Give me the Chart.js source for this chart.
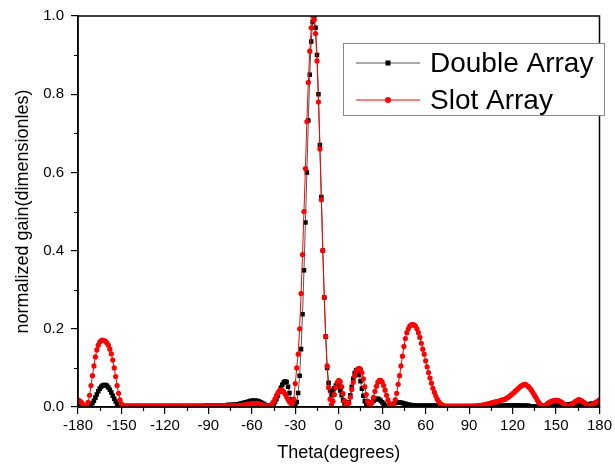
<!DOCTYPE html>
<html>
<head>
<meta charset="utf-8">
<script src="https://cdn.jsdelivr.net/npm/chart.js@4.4.1/dist/chart.umd.min.js"></script>
<style>
  html, body { margin: 0; padding: 0; background: #fff; }
  #wrap { width: 615px; height: 469px; }
</style>
</head>
<body>
<div id="wrap"><canvas id="gainChart" width="615" height="469"></canvas></div>
<script>
// sample grid: one point per degree, -180 .. 180
const theta = [];
for (let t = -180; t <= 180; t++) theta.push(t);

// Double Array (black squares), 10 degrees per row
const doubleArray = [
  0.003,0.003,0.002,0.002,0.002,0.001,0.001,0.001,0.002,0.005,
  0.010,0.016,0.024,0.032,0.040,0.047,0.052,0.055,0.056,0.056,
  0.054,0.050,0.044,0.037,0.029,0.021,0.014,0.008,0.004,0.002,
  0.001,0.001,0.002,0.002,0.002,0.002,0.002,0.002,0.002,0.002,
  0.002,0.002,0.002,0.002,0.002,0.002,0.002,0.002,0.002,0.002,
  0.002,0.002,0.002,0.002,0.002,0.002,0.002,0.002,0.002,0.002,
  0.002,0.002,0.002,0.002,0.002,0.002,0.002,0.002,0.002,0.002,
  0.002,0.002,0.002,0.002,0.002,0.002,0.002,0.002,0.002,0.002,
  0.002,0.002,0.002,0.002,0.002,0.002,0.002,0.002,0.003,0.003,
  0.003,0.003,0.003,0.003,0.003,0.003,0.003,0.004,0.004,0.004,
  0.004,0.004,0.004,0.005,0.005,0.005,0.005,0.006,0.006,0.006,
  0.006,0.007,0.008,0.009,0.010,0.011,0.012,0.013,0.014,0.015,
  0.016,0.016,0.016,0.016,0.015,0.014,0.012,0.010,0.008,0.006,
  0.004,0.002,0.001,0.002,0.004,0.008,0.013,0.020,0.029,0.039,
  0.049,0.057,0.063,0.066,0.064,0.052,0.036,0.020,0.009,0.003,
  0.002,0.013,0.036,0.080,0.148,0.237,0.350,0.472,0.600,0.733,
  0.850,0.935,0.985,0.995,0.970,0.900,0.800,0.670,0.537,0.400,
  0.280,0.180,0.100,0.062,0.042,0.030,0.038,0.048,0.055,0.057,
  0.052,0.042,0.030,0.017,0.007,0.002,0.003,0.012,0.030,0.052,
  0.072,0.087,0.094,0.092,0.082,0.066,0.047,0.029,0.015,0.006,
  0.002,0.004,0.008,0.012,0.016,0.019,0.021,0.021,0.019,0.016,
  0.012,0.008,0.004,0.002,0.001,0.002,0.004,0.006,0.008,0.010,
  0.011,0.012,0.012,0.011,0.010,0.009,0.008,0.007,0.006,0.005,
  0.005,0.004,0.004,0.004,0.003,0.003,0.003,0.003,0.003,0.003,
  0.003,0.003,0.003,0.003,0.003,0.003,0.003,0.003,0.003,0.003,
  0.002,0.002,0.002,0.002,0.002,0.002,0.002,0.002,0.002,0.002,
  0.002,0.002,0.002,0.002,0.002,0.002,0.002,0.002,0.002,0.002,
  0.002,0.002,0.002,0.002,0.002,0.002,0.002,0.002,0.002,0.002,
  0.002,0.002,0.002,0.003,0.003,0.003,0.003,0.003,0.004,0.004,
  0.004,0.004,0.004,0.004,0.004,0.004,0.004,0.004,0.004,0.004,
  0.004,0.004,0.004,0.004,0.004,0.004,0.003,0.003,0.003,0.003,
  0.003,0.003,0.002,0.002,0.002,0.002,0.002,0.002,0.002,0.002,
  0.002,0.002,0.002,0.003,0.003,0.003,0.003,0.003,0.003,0.003,
  0.003,0.003,0.003,0.004,0.004,0.005,0.005,0.006,0.006,0.007,
  0.007,0.008,0.008,0.008,0.008,0.007,0.006,0.005,0.004,0.004,
  0.004,0.005,0.006,0.007,0.008,0.008,0.008,0.007,0.006,0.005,0.005
];

// Slot Array (red circles)
const slotArray = [
  0.018,0.016,0.013,0.009,0.005,0.003,0.004,0.012,0.030,0.055,
  0.080,0.105,0.128,0.146,0.158,0.166,0.170,0.171,0.170,0.168,
  0.164,0.158,0.148,0.136,0.120,0.100,0.078,0.055,0.035,0.018,
  0.008,0.004,0.003,0.003,0.003,0.003,0.003,0.003,0.003,0.003,
  0.003,0.003,0.003,0.003,0.003,0.003,0.003,0.003,0.003,0.003,
  0.003,0.003,0.003,0.003,0.003,0.003,0.003,0.003,0.003,0.003,
  0.003,0.003,0.003,0.003,0.003,0.003,0.003,0.003,0.003,0.003,
  0.003,0.003,0.003,0.003,0.003,0.003,0.003,0.003,0.003,0.003,
  0.003,0.003,0.003,0.003,0.003,0.003,0.003,0.003,0.003,0.003,
  0.003,0.003,0.003,0.003,0.003,0.003,0.003,0.003,0.003,0.003,
  0.003,0.003,0.003,0.003,0.003,0.003,0.003,0.003,0.003,0.003,
  0.003,0.003,0.004,0.004,0.005,0.005,0.006,0.007,0.007,0.008,
  0.008,0.009,0.009,0.009,0.009,0.008,0.007,0.006,0.004,0.003,
  0.002,0.002,0.003,0.004,0.008,0.014,0.021,0.029,0.036,0.041,
  0.044,0.043,0.039,0.033,0.026,0.019,0.013,0.009,0.008,0.020,
  0.060,0.100,0.135,0.200,0.290,0.390,0.500,0.610,0.730,0.830,
  0.910,0.970,1.000,0.990,0.955,0.885,0.780,0.660,0.530,0.400,
  0.280,0.180,0.105,0.050,0.020,0.007,0.015,0.032,0.050,0.063,
  0.068,0.065,0.052,0.034,0.016,0.004,0.002,0.010,0.025,0.045,
  0.063,0.079,0.090,0.097,0.099,0.097,0.088,0.072,0.052,0.032,
  0.015,0.005,0.004,0.012,0.025,0.040,0.053,0.063,0.068,0.068,
  0.064,0.055,0.043,0.030,0.018,0.009,0.005,0.003,0.006,0.018,
  0.035,0.058,0.080,0.105,0.130,0.155,0.175,0.190,0.200,0.207,
  0.210,0.211,0.210,0.207,0.200,0.190,0.178,0.163,0.148,0.135,
  0.118,0.103,0.088,0.074,0.061,0.048,0.038,0.028,0.020,0.014,
  0.009,0.006,0.004,0.002,0.002,0.002,0.002,0.002,0.002,0.002,
  0.002,0.002,0.002,0.002,0.002,0.002,0.002,0.002,0.002,0.002,
  0.002,0.002,0.002,0.002,0.003,0.003,0.003,0.004,0.004,0.005,
  0.005,0.006,0.007,0.008,0.009,0.010,0.011,0.012,0.013,0.014,
  0.014,0.016,0.017,0.018,0.019,0.020,0.023,0.025,0.028,0.031,
  0.034,0.037,0.041,0.044,0.048,0.051,0.054,0.056,0.058,0.058,
  0.055,0.052,0.048,0.043,0.037,0.031,0.025,0.018,0.012,0.007,
  0.004,0.002,0.003,0.005,0.008,0.011,0.013,0.015,0.016,0.017,
  0.017,0.017,0.016,0.014,0.012,0.009,0.006,0.003,0.002,0.003,
  0.004,0.007,0.010,0.013,0.015,0.018,0.019,0.017,0.015,0.012,
  0.010,0.007,0.004,0.002,0.003,0.005,0.008,0.011,0.013,0.015,0.018
];

const seriesNames = ['Double Array', 'Slot Array'];
const xMinorTicks = [-165,-135,-105,-75,-45,-15,15,45,75,105,135,165];
const yMinorTicks = [0.1,0.3,0.5,0.7,0.9];

const FONT = '"Liberation Sans", Arial, sans-serif';

function toPoints(vals){
  return theta.map((t,i)=>({x:t, y:vals[i]}));
}

// box around the plot, short minor ticks, and the legend inside the plot
const framePlugin = {
  id: 'frame',
  afterDraw(chart){
    const {ctx, chartArea:a, scales} = chart;
    ctx.save();
    ctx.strokeStyle = '#000';
    ctx.lineWidth = 1.5;
    ctx.strokeRect(a.left, a.top, a.right - a.left, a.bottom - a.top);

    ctx.lineWidth = 1.2;
    ctx.beginPath();
    xMinorTicks.forEach(v=>{
      const px = Math.round(scales.x.getPixelForValue(v)) + 0.5;
      ctx.moveTo(px, a.bottom); ctx.lineTo(px, a.bottom + 4);
    });
    yMinorTicks.forEach(v=>{
      const py = Math.round(scales.y.getPixelForValue(v)) + 0.5;
      ctx.moveTo(a.left, py); ctx.lineTo(a.left - 4, py);
    });
    ctx.stroke();

    // legend
    const bx = a.left + 265, by = a.top + 27, bw = 261, bh = 72;
    ctx.fillStyle = '#fff';
    ctx.fillRect(bx, by, bw, bh);
    ctx.strokeStyle = '#888';
    ctx.lineWidth = 1;
    ctx.strokeRect(bx + 0.5, by + 0.5, bw, bh);

    const rows = [by + 20, by + 57];
    // Double Array row
    ctx.strokeStyle = '#555';
    ctx.beginPath(); ctx.moveTo(bx + 13, rows[0]); ctx.lineTo(bx + 77, rows[0]); ctx.stroke();
    ctx.fillStyle = '#000';
    ctx.fillRect(bx + 45 - 2.5, rows[0] - 2.5, 5, 5);
    // Slot Array row
    ctx.strokeStyle = '#ff0000';
    ctx.beginPath(); ctx.moveTo(bx + 13, rows[1]); ctx.lineTo(bx + 77, rows[1]); ctx.stroke();
    ctx.fillStyle = '#ff0000';
    ctx.beginPath(); ctx.arc(bx + 45, rows[1], 3, 0, Math.PI*2); ctx.fill();

    ctx.fillStyle = '#000';
    ctx.font = '28px ' + FONT;
    ctx.textBaseline = 'middle';
    ctx.textAlign = 'left';
    ctx.fillText(seriesNames[0], bx + 87, rows[0] + 1);
    ctx.fillText(seriesNames[1], bx + 87, rows[1] + 1);
    ctx.restore();
  }
};

const ctx = document.getElementById('gainChart').getContext('2d');
new Chart(ctx, {
  type: 'line',
  data: {
    datasets: [
      {
        label: seriesNames[0],
        data: toPoints(doubleArray),
        borderColor: '#555',
        borderWidth: 1,
        pointStyle: 'rect',
        pointRadius: 3.2,
        pointBackgroundColor: '#000',
        pointBorderWidth: 0,
        tension: 0,
        order: 1
      },
      {
        label: seriesNames[1],
        data: toPoints(slotArray),
        borderColor: '#ff0000',
        borderWidth: 1,
        pointStyle: 'circle',
        pointRadius: 2.6,
        pointBackgroundColor: '#ff0000',
        pointBorderWidth: 0,
        tension: 0,
        order: 0
      }
    ]
  },
  options: {
    responsive: false,
    devicePixelRatio: 1,
    animation: false,
    layout: { padding: { top: 16, right: 13, left: 0, bottom: 0 } },
    plugins: { legend: { display: false }, tooltip: { enabled: false } },
    scales: {
      x: {
        type: 'linear', min: -180, max: 180,
        afterFit(scale){ scale.height = 62; },
        border: { color: '#000', width: 1.5 },
        grid: { drawOnChartArea: false, drawTicks: true, tickLength: 7, color: '#000', lineWidth: 1.2 },
        ticks: { stepSize: 30, color: '#000', padding: 3, font: { size: 15, family: FONT }, maxRotation: 0 },
        title: { display: true, text: 'Theta(degrees)', color: '#000', font: { size: 18, family: FONT }, padding: { top: 0, bottom: 5 } }
      },
      y: {
        min: 0, max: 1,
        afterFit(scale){ scale.width = 78; },
        border: { color: '#000', width: 1.5 },
        grid: { drawOnChartArea: false, drawTicks: true, tickLength: 7, color: '#000', lineWidth: 1.2 },
        ticks: { stepSize: 0.2, color: '#000', padding: 7, font: { size: 15, family: FONT }, callback: v => v.toFixed(1) },
        title: { display: true, text: 'normalized gain(dimensionles)', color: '#000', font: { size: 18, family: FONT }, padding: { top: 12, bottom: 0 } }
      }
    }
  },
  plugins: [framePlugin]
});
</script>
</body>
</html>
